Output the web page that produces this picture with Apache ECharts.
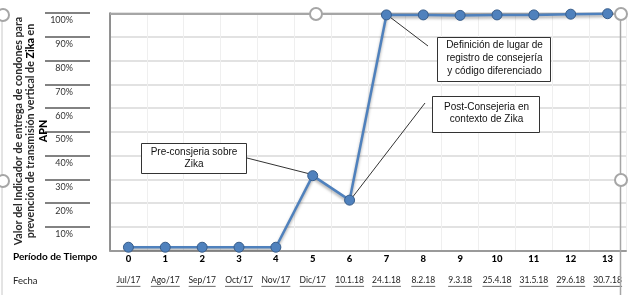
<!DOCTYPE html>
<html><head><meta charset="utf-8">
<script src="https://cdn.jsdelivr.net/npm/echarts@6/dist/echarts.min.js"></script>
<style>html,body{margin:0;padding:0;background:#fff;}#c{width:632px;height:295px;}</style>
</head><body><div id="c"></div>
<script>
// ---- data ----
const periods = ['0','1','2','3','4','5','6','7','8','9','10','11','12','13'];
const dates = ['Jul/17','Ago/17','Sep/17','Oct/17','Nov/17','Dic/17','10.1.18','24.1.18','8.2.18','9.3.18','25.4.18','31.5.18','29.6.18','30.7.18'];
const values = [1.5, 1.5, 1.5, 1.5, 1.5, 31.6, 21.3, 99.2, 99.2, 99.0, 99.2, 99.2, 99.5, 99.7];
const yTicks = [10, 20, 30, 40, 50, 60, 70, 80, 90, 100];
const yTitle1 = 'Valor del Indicador de entrega de condones para';
const yTitle2a = 'prevención de transmisión vertical de ';
const yTitle2b = 'Zika';
const yTitle2c = ' en';
const yTitle3 = 'APN';
const rowLabel1 = 'Período de Tiempo';
const rowLabel2 = 'Fecha';
const notes = [
  { text: 'Pre-consjeria sobre\nZika', idx: 5 },
  { text: 'Definición de lugar de\nregistro de consejería\ny código diferenciado', idx: 7 },
  { text: 'Post-Consejeria en\ncontexto de Zika', idx: 6 }
];

// ---- layout helpers ----
const dateFont = '8.5px Lato';
const cv = document.createElement('canvas').getContext('2d');
cv.font = dateFont;
const dateRich = { d: { fontFamily: 'Lato', fontSize: 8.5, color: '#222', lineHeight: 11 } };
dates.forEach((d, i) => {
  dateRich['u' + i] = { width: Math.round(cv.measureText(d).width), height: 0.8, lineHeight: 1, backgroundColor: '#444' };
});

const chart = echarts.init(document.getElementById('c'), null, { renderer: 'canvas' });
const option = {
  animation: false,
  backgroundColor: '#fff',
  grid: { left: 110, right: 6, top: 13, bottom: 44.2, containLabel: false },
  xAxis: [
    {
      type: 'category', data: periods, boundaryGap: true,
      axisLine: { show: true, lineStyle: { color: '#9a9a9a', width: 2 } },
      axisTick: { show: false },
      splitLine: { show: true, lineStyle: { color: '#efefef', width: 1 } },
      axisLabel: { margin: 3, fontFamily: 'Lato', fontWeight: 900, fontSize: 9.5, color: '#000', interval: 0 }
    },
    {
      type: 'category', data: dates, position: 'bottom', offset: 22, boundaryGap: true,
      axisLine: { show: false }, axisTick: { show: false }, splitLine: { show: false },
      axisLabel: {
        margin: 2, interval: 0,
        formatter: (v, i) => '{d|' + v + '}\n{u' + i + '|}',
        rich: dateRich
      }
    }
  ],
  yAxis: [
    {
      type: 'value', min: 0, max: 100, interval: 10,
      axisLine: { show: true, lineStyle: { color: '#6e6e6e', width: 1.5 } },
      axisTick: { show: false },
      axisLabel: { show: false },
      splitLine: { show: true, lineStyle: { color: '#d9d9d9', width: 1.5 } }
    },
    {
      type: 'value', min: 0, max: 100, interval: 10, position: 'left', offset: 20,
      axisLine: { show: false },
      axisTick: { show: true, length: 45, customValues: yTicks, lineStyle: { color: '#5a5a5a', width: 1.5 } },
      splitLine: { show: false },
      axisLabel: {
        customValues: yTicks, formatter: v => v + '%', margin: 17,
        verticalAlign: 'top', padding: [3, 0, 0, 0],
        fontFamily: 'Lato', fontSize: 9, color: '#333'
      }
    }
  ],
  series: [{
    type: 'line', data: values, xAxisIndex: 0, yAxisIndex: 0,
    symbol: 'circle', symbolSize: 10, z: 5,
    lineStyle: { color: '#4F81BD', width: 2.5, shadowColor: 'rgba(0,0,0,0.35)', shadowBlur: 3, shadowOffsetY: 2 },
    itemStyle: { color: '#4F81BD', borderColor: '#385D8A', borderWidth: 1 }
  }]
};
chart.setOption(option);

const px = i => chart.convertToPixel({ xAxisIndex: 0, yAxisIndex: 0 }, [i, values[i]]);
const p5 = px(notes[0].idx), p7 = px(notes[1].idx), p6 = px(notes[2].idx);

const frameColor = '#a6a6a6';
const handle = (x, y) => ({ type: 'circle', shape: { cx: x, cy: y, r: 6 }, style: { fill: '#fff', stroke: frameColor, lineWidth: 2 }, z: 20 });
const lineEl = (x1, y1, x2, y2) => ({ type: 'line', shape: { x1, y1, x2, y2 }, style: { stroke: '#333', lineWidth: 1 }, z: 3 });
const box = (x, y, w, h) => ({ type: 'rect', shape: { x, y, width: w, height: h }, style: { fill: '#fff', stroke: '#333', lineWidth: 1 }, z: 10 });
const boxText = (x, y, t, lh) => ({ type: 'text', x, y, z: 11, style: { text: t, fontFamily: 'Liberation Sans', fontSize: 10, fill: '#111', align: 'center', verticalAlign: 'middle', lineHeight: lh } });

chart.setOption({
  graphic: [
    // selection frame
    { type: 'line', shape: { x1: 110, y1: 14, x2: 620.5, y2: 14 }, style: { stroke: frameColor, lineWidth: 2 }, z: 1 },
    { type: 'line', shape: { x1: 620.5, y1: 14, x2: 620.5, y2: 295 }, style: { stroke: frameColor, lineWidth: 1.5 }, z: 1 },
    { type: 'line', shape: { x1: 2, y1: 20, x2: 2, y2: 295 }, style: { stroke: '#c8c8c8', lineWidth: 1 }, z: 1 },
    handle(3, 15), handle(316, 14), handle(621, 14), handle(621, 180), handle(3, 181),
    // y title
    {
      type: 'text', x: 31, y: 131, rotation: Math.PI / 2, z: 10,
      style: {
        text: '{a|' + yTitle1 + '}\n{a|' + yTitle2a + '}{b|' + yTitle2b + '}{a|' + yTitle2c + '}\n{b|' + yTitle3 + '}',
        align: 'center', verticalAlign: 'middle',
        rich: {
          a: { fontFamily: 'Lato', fontWeight: 'bold', fontSize: 10.7, fill: '#2a2a2a', lineHeight: 12.5 },
          b: { fontFamily: 'Lato', fontWeight: 900, fontSize: 10.7, fill: '#000', lineHeight: 12.5 }
        }
      }
    },
    // row labels
    { type: 'text', x: 13, y: 257, z: 10, style: { text: rowLabel1, fontFamily: 'Lato', fontWeight: 'bold', fontSize: 10, fill: '#000', verticalAlign: 'middle' } },
    { type: 'text', x: 13, y: 281, z: 10, style: { text: rowLabel2, fontFamily: 'Lato', fontSize: 9.5, fill: '#222', verticalAlign: 'middle' } },
    // annotations
    lineEl(247, 158, p5[0] - 4, p5[1] - 2),
    box(141.5, 143.5, 105, 30), boxText(194, 158, notes[0].text, 11.5),
    lineEl(428, 46, p7[0] + 2, p7[1] + 1),
    box(437.5, 37.5, 113, 44), boxText(494.5, 58.5, notes[1].text, 13),
    lineEl(425, 103, p6[0] + 3, p6[1] - 3),
    box(432.5, 96.5, 107, 36), boxText(486.5, 113, notes[2].text, 11.5)
  ]
});
</script></body></html>
